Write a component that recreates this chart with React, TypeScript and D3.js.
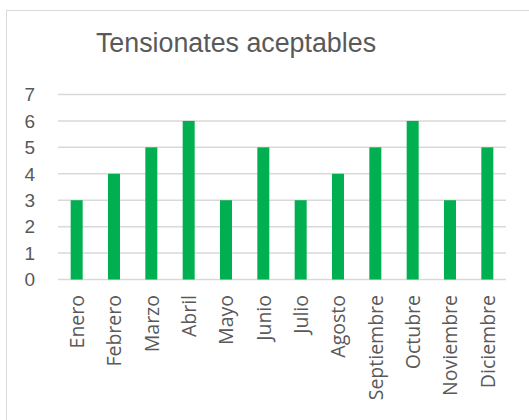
import React from "react";
import * as d3 from "d3";

const categories = ["Enero","Febrero","Marzo","Abril","Mayo","Junio","Julio","Agosto","Septiembre","Octubre","Noviembre","Diciembre"];
const values = [3,4,5,6,3,5,3,4,5,6,3,5];
const yTicks = [0,1,2,3,4,5,6,7];
const title = "Tensionates aceptables";

export default function App() {
  const W = 529, H = 420;
  const left = 58, right = 506, top = 94.5, bottom = 279.5;
  const x = d3.scaleBand<string>().domain(categories).range([left, right]).paddingInner(0).paddingOuter(0);
  const y = d3.scaleLinear().domain([0, 7]).range([bottom, top]);
  const barW = 12;
  const textColor = "#595959";
  return (
    <svg width={W} height={H} style={{ position: "absolute", left: 0, top: 0, background: "#fff" }}>
      <rect x={6.5} y={10.5} width={W} height={H} fill="#fff" stroke="#d9d9d9" strokeWidth={1} />
      <text x={236} y={52} textAnchor="middle" fontFamily="Liberation Sans, Arial, sans-serif" fontSize={26.8} fill={textColor}>{title}</text>
      {yTicks.map(t => (
        <g key={t}>
          <line x1={left} x2={right} y1={y(t)} y2={y(t)} stroke="#d9d9d9" strokeWidth={1.5} />
          <text x={35} y={y(t)} dy="0.36em" textAnchor="end" fontFamily="Liberation Sans, Arial, sans-serif" fontSize={19} fill={textColor}>{t}</text>
        </g>
      ))}
      {categories.map((c, i) => {
        const cx = (x(c) as number) + x.bandwidth() / 2;
        return (
          <g key={c}>
            <rect x={cx - barW / 2} y={y(values[i])} width={barW} height={y(0) - y(values[i])} fill="#00b050" />
            <text transform={`translate(${cx},295) rotate(-90)`} y={0} dy="0.37em" textAnchor="end" fontFamily="Open Sans, sans-serif" fontSize={19.5} fill={textColor}>{c}</text>
          </g>
        );
      })}
    </svg>
  );
}
